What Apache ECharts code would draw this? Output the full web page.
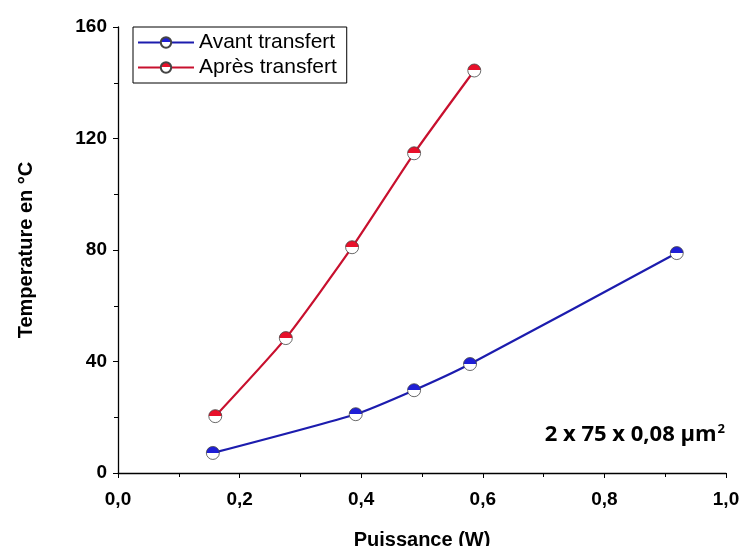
<!DOCTYPE html>
<html>
<head>
<meta charset="utf-8">
<script src="https://cdn.jsdelivr.net/npm/echarts@6/dist/echarts.min.js"></script>
<style>
  html, body { margin: 0; padding: 0; background: #fff; }
</style>
</head>
<body>
<div id="chart" style="width: 739px; height: 546px"></div>
<script>
// data
const avantX = [0.156, 0.391, 0.487, 0.579, 0.919];
const avantY = [7.2, 21.1, 29.7, 39.1, 78.9];
const apresX = [0.160, 0.276, 0.385, 0.487, 0.586];
const apresY = [20.4, 48.4, 81.0, 114.7, 144.4];
const xTicks = [0, 0.2, 0.4, 0.6, 0.8, 1.0];
const yTicks = [0, 40, 80, 120, 160];

const FONT = "Liberation Sans";

function halfFill(c) {
  return {
    type: "linear", x: 0, y: 0, x2: 0, y2: 1,
    colorStops: [
      { offset: 0, color: c },
      { offset: 0.5, color: c },
      { offset: 0.5, color: "#fff" },
      { offset: 1, color: "#fff" },
    ],
  };
}

function pairs(xs, ys) {
  return xs.map((x, i) => [x, ys[i]]);
}

const myChart = echarts.init(document.getElementById("chart"));
const options = {
  backgroundColor: "#fff",
  animation: false,
  grid: { left: 118, right: 13, top: 27, bottom: 73, outerBoundsMode: "none", containLabel: false },
  legend: {
    left: 133,
    top: 27,
    orient: "vertical",
    itemGap: 4,
    itemWidth: 56,
    itemHeight: 13,
    padding: [5, 10, 5, 4],
    borderColor: "#000",
    borderWidth: 1,
    textStyle: { fontFamily: FONT, fontSize: 21, color: "#000" },
  },
  xAxis: {
    type: "value",
    min: 0,
    max: 1,
    interval: 0.2,
    name: "Puissance (W)",
    nameLocation: "middle",
    nameGap: 57,
    nameTextStyle: { fontFamily: FONT, fontSize: 20, fontWeight: "bold", color: "#000" },
    axisLine: { lineStyle: { color: "#000", width: 1.3 } },
    axisTick: { inside: false, length: 5, lineStyle: { color: "#000" } },
    minorTick: { show: true, splitNumber: 2, length: 4, lineStyle: { color: "#000" } },
    splitLine: { show: false },
    axisLabel: {
      fontFamily: FONT, fontSize: 19, fontWeight: "bold", color: "#000", margin: 17,
      formatter: (v) => (xTicks.includes(Math.round(v * 10) / 10) ? v.toFixed(1).replace(".", ",") : ""),
    },
  },
  yAxis: {
    type: "value",
    min: 0,
    max: 160,
    interval: 40,
    name: "Temperature en °C",
    nameLocation: "middle",
    nameGap: 82,
    nameTextStyle: { fontFamily: FONT, fontSize: 20, fontWeight: "bold", color: "#000" },
    axisLine: { show: true, lineStyle: { color: "#000", width: 1.3 } },
    axisTick: { show: true, inside: false, length: 5, lineStyle: { color: "#000" } },
    minorTick: { show: true, splitNumber: 2, length: 4, lineStyle: { color: "#000" } },
    splitLine: { show: false },
    axisLabel: {
      fontFamily: FONT, fontSize: 19, fontWeight: "bold", color: "#000", margin: 11,
      formatter: (v) => (yTicks.includes(v) ? String(v) : ""),
    },
  },
  series: [
    {
      name: "Avant transfert",
      type: "line",
      smooth: 0.2,
      data: pairs(avantX, avantY),
      symbol: "circle",
      symbolSize: 13,
      lineStyle: { color: "#1c1cae", width: 2.2 },
      itemStyle: { color: halfFill("#1f1fd6"), borderColor: "#444", borderWidth: 0.8 },
    },
    {
      name: "Après transfert",
      type: "line",
      smooth: 0.2,
      data: pairs(apresX, apresY),
      symbol: "circle",
      symbolSize: 13,
      lineStyle: { color: "#c8102e", width: 2.2 },
      itemStyle: { color: halfFill("#e8102a"), borderColor: "#444", borderWidth: 0.8 },
    },
  ],
  graphic: [
    {
      type: "text",
      right: 14,
      top: 423,
      style: {
        text: "{m|2 x 75 x 0,08 µm}{s|2}",
        rich: {
          m: { font: "bold 22px 'Open Sans', 'Liberation Sans'", fill: "#000" },
          s: { font: "bold 13px 'Open Sans', 'Liberation Sans'", fill: "#000", verticalAlign: "top", padding: [0, 0, 10, 1] },
        },
      },
    },
  ],
};
myChart.setOption(options);
</script>
</body>
</html>
